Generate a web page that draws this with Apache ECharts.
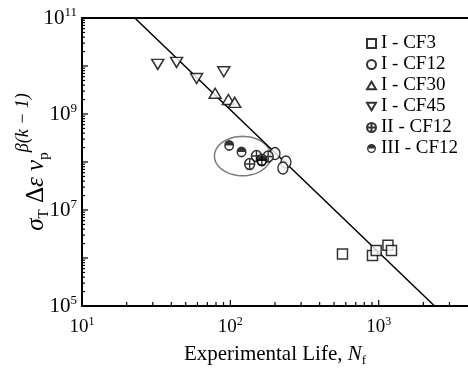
<!DOCTYPE html>
<html>
<head>
<meta charset="utf-8">
<script src="https://cdn.jsdelivr.net/npm/echarts@6/dist/echarts.min.js"></script>
<style>
    html, body { margin: 0; padding: 0; background: #fff; }
    #chart { width: 468px; height: 374px; }
</style>
</head>
<body>
<div id="chart"></div>
<script>
// experimental life N_f and damage parameter
let cf3Life = [570, 908, 962, 1155, 1220];
let cf3Param = [1.21e6, 1.13e6, 1.43e6, 1.85e6, 1.43e6];
let cf12Life = [200, 237, 226];
let cf12Param = [1.5e8, 1.0e8, 7.5e7];
let cf30Life = [79, 97, 107];
let cf30Param = [2.7e9, 2.0e9, 1.75e9];
let cf45Life = [32.4, 43.4, 59.2, 90.3];
let cf45Param = [1.08e10, 1.19e10, 5.5e9, 7.6e9];
let ii12Life = [150, 135, 180, 163];
let ii12Param = [1.33e8, 9.1e7, 1.30e8, 1.10e8];
let iii12Life = [98.2, 119, 163];
let iii12Param = [2.21e8, 1.62e8, 1.05e8];
// fitted line
let fitLife = [22.7, 2380];
let fitParam = [1e11, 1e5];
// circled group
let groupCenter = [121, 1.33e8];

// ticks
let xMajor = [10, 100, 1000];
let yMajor = [1e5, 1e6, 1e7, 1e8, 1e9, 1e10, 1e11];
let yLabels = [1e5, 1e7, 1e9, 1e11];

let FONT = 'Liberation Serif';

function minorOf(from, to) {
    let out = [];
    for (let d = from; d < to; d *= 10) {
        for (let m = 2; m <= 9; m++) out.push(m * d);
    }
    return out;
}
let xMinor = minorOf(10, 10000).filter(v => v < 4000);
let yMinor = minorOf(1e5, 1e11);

function pairs(xs, ys) {
    return xs.map((x, i) => [x, ys[i]]);
}

function powLabel(v) {
    return '{b|10}{s|' + Math.round(Math.log10(v)) + '}';
}

// inward tick marks, placed through the axis scales
function tickSeries(values, onX, len) {
    return {
        type: 'custom',
        coordinateSystem: 'cartesian2d',
        clip: false,
        silent: true,
        z: 4,
        data: values.map(v => onX ? [v, 1e5] : [10, v]),
        renderItem: function (params, api) {
            let p = api.coord([api.value(0), api.value(1)]);
            return {
                type: 'line',
                shape: { x1: p[0], y1: p[1], x2: onX ? p[0] : p[0] + len, y2: onX ? p[1] - len : p[1] },
                style: { stroke: '#000', lineWidth: 1.2 }
            };
        }
    };
}

let crossCircle = 'path://M0,10 A10,10 0 1,1 20,10 A10,10 0 1,1 0,10 Z M10,0 L10,20 M0,10 L20,10';
let halfCircle = 'path://M0,10 A10,10 0 0,1 20,10 A10,10 0 0,1 0,10 L3,10 A7,7 0 0,0 17,10 Z';
let upTri = 'path://M10,0 L20,17 L0,17 Z';
let downTri = 'path://M0,0 L20,0 L10,17 Z';

let openStyle = { color: '#fff', borderColor: '#000', borderWidth: 1.5 };

let echart = echarts.init(document.getElementById('chart'), null, { renderer: 'canvas' });

let option = {
    animation: false,
    backgroundColor: '#fff',
    grid: { left: 82, top: 18, right: 0, bottom: 68, outerBoundsMode: 'none', containLabel: false },
    legend: {
        orient: 'vertical',
        left: 361,
        top: 29,
        itemWidth: 9,
        itemHeight: 9,
        itemGap: 2,
        selectedMode: false,
        textStyle: { fontFamily: FONT, fontSize: 19, lineHeight: 19, color: '#000' },
        data: ['I - CF3', 'I - CF12', 'I - CF30', 'I - CF45', 'II - CF12', 'III - CF12']
    },
    xAxis: [{
        type: 'log',
        min: 10,
        max: 4000,
        position: 'bottom',
        name: 'Experimental Life, {i|N}{sub|f}',
        nameLocation: 'middle',
        nameGap: 33,
        nameTextStyle: {
            fontFamily: FONT, fontSize: 21, color: '#000', lineHeight: 26,
            rich: {
                i: { fontFamily: FONT, fontSize: 21, fontStyle: 'italic', lineHeight: 26 },
                sub: { fontFamily: FONT, fontSize: 13, lineHeight: 13, verticalAlign: 'bottom' }
            }
        },
        axisLine: { show: true, lineStyle: { color: '#000', width: 2 } },
        axisTick: { show: false },
        axisLabel: {
            show: true,
            customValues: xMajor,
            margin: 10,
            formatter: powLabel,
            rich: {
                b: { fontFamily: FONT, fontSize: 19, lineHeight: 22, color: '#000' },
                s: { fontFamily: FONT, fontSize: 12, lineHeight: 12, verticalAlign: 'top', color: '#000' }
            }
        },
        splitLine: { show: false }
    }, {
        type: 'log',
        min: 10,
        max: 4000,
        position: 'top',
        axisLine: { show: true, lineStyle: { color: '#000', width: 2 } },
        axisTick: { show: false },
        axisLabel: { show: false },
        splitLine: { show: false }
    }],
    yAxis: [{
        type: 'log',
        min: 1e5,
        max: 1e11,
        position: 'left',
        name: '{i|σ}{sub|T}{n| Δ}{i|ε }{i|ν}{sub|p}{sup|β(k − 1)}',
        nameLocation: 'middle',
        nameRotate: 90,
        nameGap: 24,
        nameMoveOverlap: false,
        nameTextStyle: {
            fontFamily: FONT, fontSize: 25, color: '#000', lineHeight: 44,
            rich: {
                i: { fontFamily: FONT, fontSize: 25, fontStyle: 'italic', lineHeight: 44 },
                n: { fontFamily: FONT, fontSize: 25, lineHeight: 44 },
                sub: { fontFamily: FONT, fontSize: 15, lineHeight: 15, verticalAlign: 'bottom', padding: [0, 0, 6, 0] },
                sup: { fontFamily: FONT, fontSize: 18, fontStyle: 'italic', lineHeight: 18, verticalAlign: 'top' }
            }
        },
        axisLine: { show: true, lineStyle: { color: '#000', width: 2 } },
        axisTick: { show: false },
        axisLabel: {
            show: true,
            customValues: yLabels,
            margin: 5,
            formatter: powLabel,
            rich: {
                b: { fontFamily: FONT, fontSize: 21, lineHeight: 24, color: '#000' },
                s: { fontFamily: FONT, fontSize: 13, lineHeight: 13, verticalAlign: 'top', color: '#000' }
            }
        },
        splitLine: { show: false }
    }],
    series: [{
        type: 'custom',
        name: 'group',
        coordinateSystem: 'cartesian2d',
        clip: false,
        z: 1,
        silent: true,
        data: [groupCenter],
        renderItem: function (params, api) {
            let lx = Math.log10(api.value(0));
            let ly = Math.log10(api.value(1));
            let pts = [];
            for (let i = 0; i <= 72; i++) {
                let a = i / 72 * Math.PI * 2;
                pts.push(api.coord([Math.pow(10, lx + 0.19 * Math.cos(a)), Math.pow(10, ly + 0.41 * Math.sin(a))]));
            }
            return {
                type: 'polyline',
                shape: { points: pts },
                style: { fill: null, stroke: '#7a7a7a', lineWidth: 1.5 }
            };
        }
    },
    tickSeries(xMajor, true, 6),
    tickSeries(xMinor, true, 4),
    tickSeries(yMajor, false, 6),
    tickSeries(yMinor, false, 3),
    {
        type: 'line',
        name: 'fit',
        data: pairs(fitLife, fitParam),
        showSymbol: false,
        z: 2,
        lineStyle: { color: '#000', width: 1.5 }
    }, {
        type: 'scatter',
        name: 'I - CF3',
        data: pairs(cf3Life, cf3Param),
        symbol: 'rect',
        symbolSize: 10,
        z: 3,
        itemStyle: openStyle
    }, {
        type: 'scatter',
        name: 'I - CF12',
        data: pairs(cf12Life, cf12Param),
        symbol: 'circle',
        symbolSize: [10, 12],
        z: 3,
        itemStyle: openStyle
    }, {
        type: 'scatter',
        name: 'I - CF30',
        data: pairs(cf30Life, cf30Param),
        symbol: upTri,
        symbolSize: [12, 10],
        z: 3,
        itemStyle: openStyle
    }, {
        type: 'scatter',
        name: 'I - CF45',
        data: pairs(cf45Life, cf45Param),
        symbol: downTri,
        symbolSize: [12, 10],
        z: 3,
        itemStyle: openStyle
    }, {
        type: 'scatter',
        name: 'II - CF12',
        data: pairs(ii12Life, ii12Param),
        symbol: crossCircle,
        symbolSize: [10, 11],
        z: 3,
        itemStyle: openStyle
    }, {
        type: 'scatter',
        name: 'III - CF12',
        data: pairs(iii12Life, iii12Param),
        symbol: halfCircle,
        symbolSize: [10, 11],
        z: 3,
        itemStyle: { color: '#000', borderWidth: 0 }
    }]
};

echart.setOption(option);
</script>
</body>
</html>
